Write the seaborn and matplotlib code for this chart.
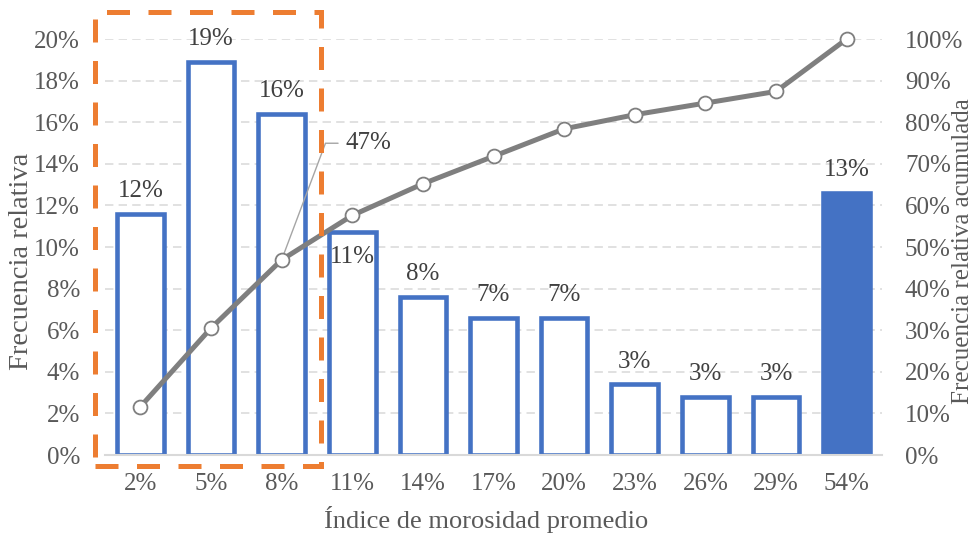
import numpy as np
import pandas as pd
import matplotlib
matplotlib.use("Agg")
import matplotlib.pyplot as plt
from matplotlib.patches import Rectangle
import seaborn as sns

# Average delinquency index buckets and their relative / cumulative frequencies (%)
categories = ["2%", "5%", "8%", "11%", "14%", "17%", "20%", "23%", "26%", "29%", "54%"]
rel_freq = [11.6, 18.9, 16.4, 10.7, 7.6, 6.6, 6.6, 3.4, 2.8, 2.8, 12.6]
cum_freq = [11.6, 30.5, 46.9, 57.6, 65.2, 71.8, 78.4, 81.8, 84.6, 87.4, 100.0]
left_ticks = [0, 2, 4, 6, 8, 10, 12, 14, 16, 18, 20]
right_ticks = [0, 10, 20, 30, 40, 50, 60, 70, 80, 90, 100]

BLUE = "#4472C4"
GREY_LINE = "#7F7F7F"
ORANGE = "#ED7D31"
TICK_C = "#595959"
LABEL_C = "#404040"
GRID_C = "#D9D9D9"

sns.set_style("white")
plt.rcParams["font.family"] = ["Liberation Serif", "DejaVu Serif"]

df = pd.DataFrame({"cat": categories, "rel": rel_freq, "cum": cum_freq,
                   "pos": np.arange(len(categories))})

fig = plt.figure(figsize=(9.77, 5.35), dpi=100)
ax = fig.add_axes([0.1075, 0.1495, 0.7953, 0.7776])

sns.barplot(data=df, x="cat", y="rel", order=categories, color=BLUE,
            width=0.66, ax=ax, zorder=2)
for i, p in enumerate(ax.patches):
    p.set_edgecolor(BLUE)
    p.set_linewidth(3.3)
    p.set_facecolor(BLUE if i == len(categories) - 1 else "white")

ax.set_xlim(-0.5, len(categories) - 0.5)
ax.set_ylim(0, 20)
ax.set_yticks(left_ticks)
ax.set_yticklabels([f"{t}%" for t in left_ticks])
ax.yaxis.grid(True, color=GRID_C, linestyle=(0, (5.5, 3.4)), linewidth=1.1)
ax.set_axisbelow(True)
for s in ["left", "right", "top"]:
    ax.spines[s].set_visible(False)
ax.spines["bottom"].set_color(GRID_C)
ax.spines["bottom"].set_linewidth(1.5)
ax.tick_params(axis="y", length=0, pad=18, labelsize=18, labelcolor=TICK_C)
ax.tick_params(axis="x", length=0, pad=13, labelsize=18, labelcolor=TICK_C)

ax.set_xlabel("Índice de morosidad promedio", fontsize=19, color=TICK_C, va="center")
ax.xaxis.set_label_coords(0.49, -0.155)
ax.set_ylabel("Frecuencia relativa", fontsize=20.5, color=TICK_C, va="center")
ax.yaxis.set_label_coords(-0.107, 0.465)

# value labels on the bars
for i, v in enumerate(rel_freq):
    dy = -22 if i == 3 else 12
    ax.annotate(f"{v:.0f}%", xy=(i, v), xytext=(0, dy), textcoords="offset points",
                ha="center", va="baseline", fontsize=18, color=LABEL_C, zorder=5)

# cumulative frequency on the secondary axis
ax2 = ax.twinx()
sns.lineplot(data=df, x="pos", y="cum", ax=ax2, sort=False, color=GREY_LINE,
             linewidth=3.6, marker="o", markersize=10, markerfacecolor="white",
             markeredgecolor=GREY_LINE, markeredgewidth=1.3, zorder=4)
for ln in ax2.lines:
    ln.set_clip_on(False)
ax2.set_ylim(0, 100)
ax2.set_yticks(right_ticks)
ax2.set_yticklabels([f"{t}%" for t in right_ticks])
ax2.tick_params(axis="y", length=0, pad=16.5, labelsize=18, labelcolor=TICK_C)
for s in ax2.spines.values():
    s.set_visible(False)
ax2.set_xlabel("")
ax2.set_ylabel("Frecuencia relativa acumulada", fontsize=18, color=TICK_C,
               rotation=90, va="center")
ax2.yaxis.set_label_coords(1.1036, 0.489)

ax2.annotate(f"{cum_freq[2]:.0f}%", xy=(2, cum_freq[2]), xytext=(46, 84),
             textcoords="offset points", ha="left", va="center", fontsize=18,
             color=LABEL_C, zorder=3,
             arrowprops=dict(arrowstyle="-", color="#A5A5A5", lw=1.0,
                             connectionstyle="angle,angleA=0,angleB=69.4,rad=0",
                             shrinkA=3, shrinkB=0, relpos=(0, 0.5)))

# highlight box around the first three buckets
box = Rectangle((-0.0129, -0.0264), 0.2909, 1.0914, transform=ax2.transAxes,
                fill=False, edgecolor=ORANGE, linewidth=3.6,
                linestyle=(0, (4.6, 3.7)), clip_on=False, zorder=6)
ax2.add_patch(box)

fig.savefig("out.png", dpi=100)
